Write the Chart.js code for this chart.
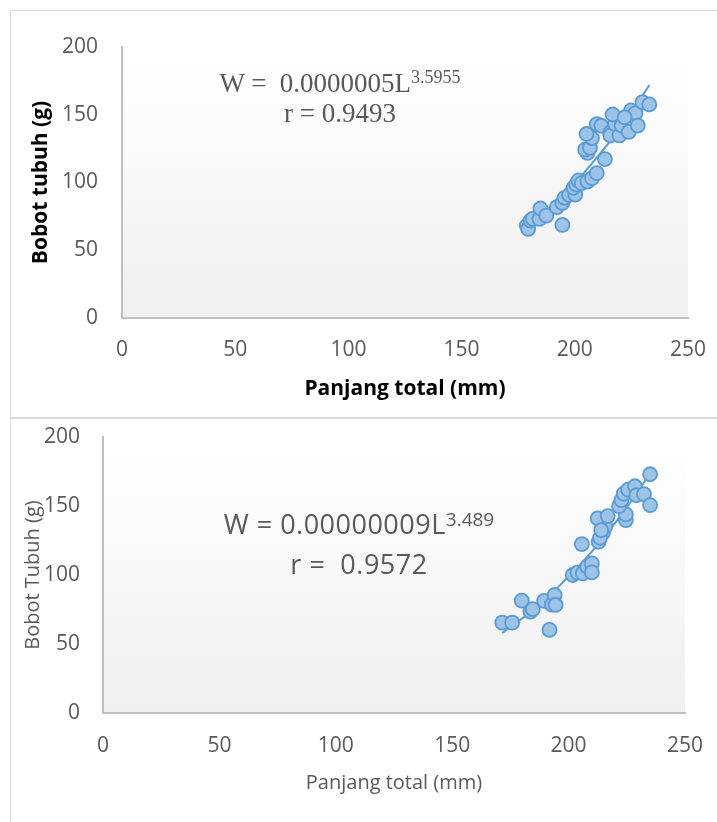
<!DOCTYPE html>
<html lang="id">
<head>
<meta charset="UTF-8" />
<title>Hubungan panjang total dan bobot tubuh</title>
<script src="https://cdn.jsdelivr.net/npm/chart.js"></script>
<style>
  body { margin:0; background:#fff; width:717px; height:822px; position:relative; overflow:hidden; font-family:"Open Sans", sans-serif; }
  canvas { position:absolute; left:0; }
  .frame { position:absolute; border:1.5px solid #d9d9d9; box-sizing:border-box; }
  .eq { position:absolute; width:400px; text-align:center; color:#595959; white-space:pre; }
  .eq span { position:relative; line-height:0; }
</style>
</head>
<body>
<canvas id="top" width="717" height="418" style="top:0"></canvas>
<canvas id="bottom" width="717" height="404" style="top:418px"></canvas>
<div class="frame" style="left:10px;top:10px;width:730px;height:409px"></div>
<div class="frame" style="left:10px;top:417px;width:730px;height:420px"></div>

<div class="eq" style="left:140px;top:68px;font:27px 'Liberation Serif',serif;line-height:30px">W =  0.0000005L<span style="font-size:18px;top:-9px">3.5955</span><br>r = 0.9493</div>
<div class="eq" style="left:159px;top:504px;font:27px 'Open Sans',sans-serif;letter-spacing:0.5px;line-height:40px">W = 0.00000009L<span style="font-size:19px;top:-8px;letter-spacing:0">3.489</span><br>r =  0.9572</div>

<script>
// top chart: panjang total (mm) vs bobot tubuh (g)
const topLength = [178.8,179.4,180.4,181.4,184.4,184.8,187.4,192.1,194.5,195.5,197.5,200.2,199.5,200.6,201.6,203.0,205.6,207.6,209.7,213.3,
  205.6,204.6,206.7,207.6,205.2,209.7,211.7,215.7,215.7,217.7,216.7,219.7,220.7,223.8,224.8,226.8,227.8,229.9,232.9,194.5,222.0];
const topWeight = [68.2,65.8,71.9,73.2,73.2,80.8,75.6,81.8,85.0,88.7,90.8,91.1,96.1,98.5,101.5,99.5,100.7,103.2,106.9,117.2,
  121.8,124.3,125.5,132.8,135.8,143.1,141.9,137.1,134.7,143.3,150.2,134.8,142.0,137.3,153.2,151.2,142.0,159.3,157.6,68.7,148.0];
const topFitLength = [177.5,190,200,207.5,220,233];
const topFitWeight = [65,83,99.5,114,140,172];

// bottom chart
const botLength = [171.5,175.8,179.9,183.6,184.6,189.5,191.8,192.8,194.0,194.4,201.8,203.8,206.1,208.0,210.0,210.0,205.7,212.9,214.8,215.8,
  212.5,216.8,224.6,224.6,221.7,222.7,223.7,225.6,228.5,229.1,232.4,235.0,235.0,213.5,214.0];
const botWeight = [65.5,65.5,81.4,73.5,75.2,81.2,60.2,78.5,85.5,78.3,100.0,101.7,101.2,106.0,108.4,101.9,122.4,124.1,130.6,135.4,
  141.0,142.7,139.8,143.9,149.9,154.2,159.0,161.9,164.3,157.8,158.6,150.6,173.0,127.0,132.5];
const botFitLength = [171.5,185,195,205,215,225,235];
const botFitWeight = [58,75,90.5,107.5,127,149,173.5];

const xTicks = [0,50,100,150,200,250];
const yTicks = [0,50,100,150,200];

const plotBg = {
  id:'plotBg',
  beforeDraw(chart){
    const {ctx, chartArea:a} = chart;
    const g = ctx.createLinearGradient(0, a.top+10, 0, a.bottom);
    g.addColorStop(0,'#ffffff');
    g.addColorStop(1,'#efefef');
    ctx.save();
    ctx.fillStyle = g;
    ctx.fillRect(a.left, a.top+10, a.right-a.left, a.bottom-a.top-10);
    ctx.restore();
  }
};

function pts(xs, ys){ return xs.map((x,i)=>({x:x, y:ys[i]})) }

function makeChart(id, o){
  const axisBorder = {display:true, color:'#bfbfbf', width:2};
  return new Chart(document.getElementById(id), {
    type:'scatter',
    data:{ datasets:[
      {data:pts(o.len,o.wt), pointRadius:7, pointHoverRadius:7, borderWidth:1.8, backgroundColor:'#9dc3e6', borderColor:'#5b9bd5'},
      {data:pts(o.fitLen,o.fitWt), showLine:true, pointRadius:0, borderColor:'#5b9bd5', borderWidth:2, tension:0.4, cubicInterpolationMode:'monotone'}
    ]},
    options:{
      responsive:false, animation:false,
      layout:{padding:{top:o.padTop, right:o.padRight, left:0, bottom:0}},
      plugins:{legend:{display:false}, tooltip:{enabled:false}},
      scales:{
        // gap between labels and axis comes from an invisible tick length, ticks.padding would also inflate the layout padding
        x:{type:'linear', min:0, max:250, grid:{display:false, drawTicks:true, tickLength:o.xTickPad}, border:axisBorder,
          afterBuildTicks:s=>{ s.ticks = xTicks.map(v=>({value:v})) },
          afterFit:s=>{ s.height = o.xHeight },
          ticks:{font:o.tickFont, color:'#595959', padding:0, maxRotation:0},
          title:{display:true, text:o.xTitle, font:o.titleFont, color:o.titleColor, padding:{top:o.xTitlePad, bottom:o.xTitlePad}}},
        y:{type:'linear', min:0, max:200, grid:{display:false, drawTicks:true, tickLength:o.yTickPad}, border:axisBorder,
          afterBuildTicks:s=>{ s.ticks = yTicks.map(v=>({value:v})) },
          afterFit:s=>{ s.width = o.yWidth },
          ticks:{font:o.tickFont, color:'#595959', padding:0},
          title:{display:true, text:o.yTitle, font:o.titleFont, color:o.titleColor, padding:{top:o.yTitlePad, bottom:o.yTitlePad}}}
      }
    },
    plugins:[plotBg]
  });
}

makeChart('top', {
  len:topLength, wt:topWeight, fitLen:topFitLength, fitWt:topFitWeight,
  padTop:47, padRight:29, yWidth:122, xHeight:100,
  tickFont:{family:'Open Sans', size:21}, xTickPad:19.5, yTickPad:24,
  xTitle:'Panjang total (mm)', yTitle:'Bobot tubuh (g)',
  titleFont:{family:'Open Sans', size:21, weight:'bold'}, titleColor:'#000000',
  xTitlePad:16.5, yTitlePad:28
});

makeChart('bottom', {
  len:botLength, wt:botWeight, fitLen:botFitLength, fitWt:botFitWeight,
  padTop:19, padRight:32, yWidth:103, xHeight:109,
  tickFont:{family:'Open Sans', size:21}, xTickPad:20, yTickPad:23,
  xTitle:'Panjang total (mm)', yTitle:'Bobot Tubuh (g)',
  titleFont:{family:'Open Sans', size:20}, titleColor:'#595959',
  xTitlePad:26.5, yTitlePad:21
});
</script>
</body>
</html>
